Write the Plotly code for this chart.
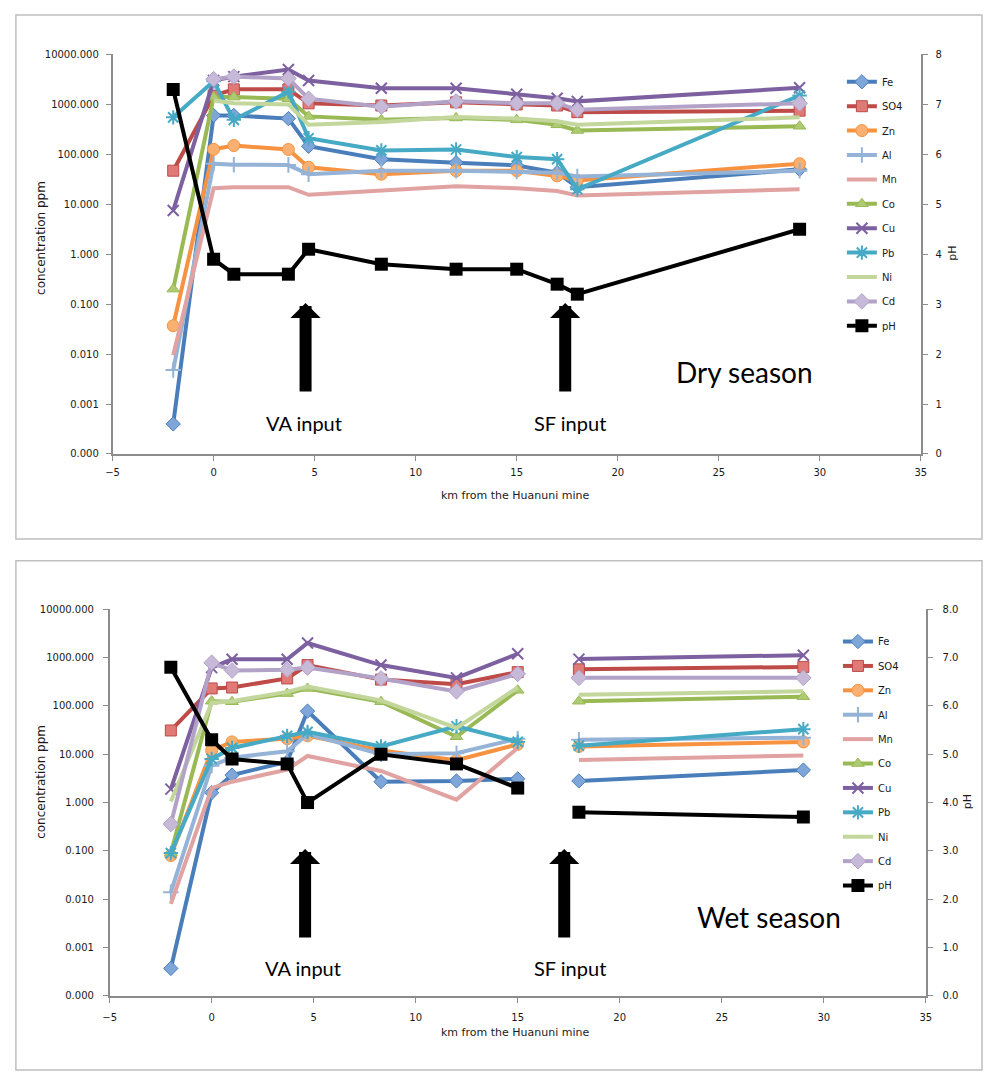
import plotly.graph_objects as go

# ---- data -------------------------------------------------------------
km = [-2, 0, 1, 3.7, 4.7, 8.3, 12, 15, 17, 18, 29]

series_names = ["Fe", "SO4", "Zn", "Al", "Mn", "Co", "Cu", "Pb", "Ni", "Cd"]

dry_fe = [0.0004, 600, 600, 520, 145, 80, 68, 60, 43, 22, 50]
dry_so4 = [47, 1500, 2000, 2000, 1050, 950, 1100, 1000, 950, 700, 750]
dry_zn = [0.037, 126, 150, 125, 55, 40, 47, 47, 37, 30, 65]
dry_al = [0.0048, 65, 62, 61, 40, 47, 47, 45, 43, 36, 47]
dry_mn = [0.0095, 21, 22, 22, 15.5, 18.5, 23, 21, 18.5, 15, 20]
dry_co = [0.2, 1400, 1400, 1300, 575, 490, 535, 490, 390, 300, 365]
dry_cu = [7.5, 3000, 3600, 5000, 3000, 2100, 2100, 1600, 1330, 1150, 2150]
dry_pb = [550, 2900, 490, 1800, 210, 120, 125, 88, 80, 20, 1500]
dry_ni = [None, 1200, 1050, 1000, 390, 445, 560, 520, 460, 390, 550]
dry_cd = [None, 3200, 3600, 3300, 1300, 900, 1150, 1050, 1050, 780, 1050]
dry_ph = [7.3, 3.9, 3.6, 3.6, 4.1, 3.8, 3.7, 3.7, 3.4, 3.2, 4.5]

wet_fe = [0.00037, 1.6, 3.7, 7, 78, 2.7, 2.8, 3.1, None, 2.8, 4.7]
wet_so4 = [31, 230, 240, 370, 700, 350, 280, 500, None, 570, 640]
wet_zn = [0.08, 12, 18, 21, 24, 12, 7.5, 16, None, 14.5, 18]
wet_al = [0.014, 5.8, 8.5, 11.5, 26, 10, 10.5, 21, None, 20, 22]
wet_mn = [0.008, 2.0, 2.7, 4.8, 9.2, 4.5, 1.15, 13.5, None, 7.6, 9.4]
wet_co = [0.09, 125, 122, 180, 230, 122, 23, 210, None, 125, 155]
wet_cu = [1.9, 620, 920, 920, 2000, 700, 380, 1200, None, 930, 1120]
wet_pb = [0.09, 8, 13.5, 24, 29, 14.5, 38, 18, None, 15, 33]
wet_ni = [1.05, 115, 125, 195, 250, 130, 35, 240, None, 170, 200]
wet_cd = [0.36, 780, 540, 560, 620, 370, 200, 460, None, 380, 380]
wet_ph = [6.8, 5.3, 4.9, 4.8, 4.0, 5.0, 4.8, 4.3, None, 3.8, 3.7]

conc_tickvals = [1e-4, 1e-3, 1e-2, 1e-1, 1, 10, 100, 1000, 10000]
conc_ticktext = ["0.000", "0.001", "0.010", "0.100", "1.000", "10.000",
                 "100.000", "1000.000", "10000.000"]
km_ticks = [-5, 0, 5, 10, 15, 20, 25, 30, 35]

# ---- styles -----------------------------------------------------------
# name: (line colour, marker fill, marker symbol, marker size)
styles = {
    "Fe":  ("#4A7EBB", "#7FA6D9", "diamond", 11),
    "SO4": ("#BE4B48", "#E07A77", "square", 11),
    "Zn":  ("#F69240", "#F9B071", "circle", 12),
    "Al":  ("#95B3D7", "#95B3D7", "cross-thin-open", 11),
    "Mn":  ("#E0A3A2", "#E0A3A2", None, 0),
    "Co":  ("#98B954", "#AECB74", "triangle-up", 11),
    "Cu":  ("#7D60A0", "#7D60A0", "x-thin-open", 11),
    "Pb":  ("#46AAC5", "#46AAC5", "asterisk-open", 12),
    "Ni":  ("#C3D69B", "#C3D69B", None, 0),
    "Cd":  ("#B3A2C7", "#C7BAD8", "diamond", 12),
}

W, H = 990, 1081


def px_x(p):
    return p / W


def px_y(p):
    return 1 - p / H


fig = go.Figure()

panels = [
    ("dry", [dry_fe, dry_so4, dry_zn, dry_al, dry_mn, dry_co, dry_cu,
             dry_pb, dry_ni, dry_cd], dry_ph, "x", "y", "y2", "legend"),
    ("wet", [wet_fe, wet_so4, wet_zn, wet_al, wet_mn, wet_co, wet_cu,
             wet_pb, wet_ni, wet_cd], wet_ph, "x2", "y3", "y4", "legend2"),
]

for tag, conc, ph, xa, ya, ya_ph, leg in panels:
    for name, vals in zip(series_names, conc):
        col, fill, sym, size = styles[name]
        marker = dict(size=0.1, opacity=0) if sym is None else dict(
            symbol=sym, size=size, color=fill,
            line=dict(color=col, width=2 if "open" in sym else 1))
        fig.add_trace(go.Scatter(
            x=km, y=vals, name=name, mode="lines+markers",
            line=dict(color=col, width=4), marker=marker,
            connectgaps=False, xaxis=xa, yaxis=ya, legend=leg,
            legendgroup=f"{tag}-{name}"))
    fig.add_trace(go.Scatter(
        x=km, y=ph, name="pH", mode="lines+markers",
        line=dict(color="black", width=4),
        marker=dict(symbol="square", size=13, color="black"),
        connectgaps=False, xaxis=xa, yaxis=ya_ph, legend=leg,
        legendgroup=f"{tag}-pH"))

axis_font = dict(family="DejaVu Sans", size=10, color="#1a1a1a")
line_col = "#8c8c8c"
base_axis = dict(ticks="outside", ticklen=5, tickcolor=line_col,
                 showline=True, linecolor=line_col, linewidth=1.5,
                 showgrid=False, zeroline=False, tickfont=axis_font)
common_x = dict(range=[-5, 35], tickvals=km_ticks, **base_axis)
common_log = dict(type="log", range=[-4, 4], tickvals=conc_tickvals,
                  ticktext=conc_ticktext, **base_axis)
common_ph = dict(range=[0, 8], dtick=1, side="right", **base_axis)

top_dom = [px_y(453), px_y(49)]
bot_dom = [px_y(1001), px_y(610)]

legend_common = dict(xanchor="left", yanchor="top", itemwidth=30,
                     tracegroupgap=5.4, bgcolor="rgba(0,0,0,0)",
                     font=dict(family="DejaVu Sans", size=10, color="#1a1a1a"))

fig.update_layout(
    width=W, height=H, margin=dict(l=0, r=0, t=0, b=0),
    paper_bgcolor="white", plot_bgcolor="white",
    xaxis=dict(domain=[px_x(107), px_x(926)], anchor="y",
               ticklabelstandoff=3, **common_x),
    yaxis=dict(domain=top_dom, anchor="x", ticklabelstandoff=5, **common_log),
    yaxis2=dict(overlaying="y", anchor="x", ticklabelstandoff=6, **common_ph),
    xaxis2=dict(domain=[px_x(104), px_x(931)], anchor="y3",
                ticklabelstandoff=6, **common_x),
    yaxis3=dict(domain=bot_dom, anchor="x2", ticklabelstandoff=7,
                **common_log),
    yaxis4=dict(overlaying="y3", anchor="x2", tickformat=".1f",
                ticklabelstandoff=8, **common_ph),
    legend=dict(x=px_x(846), y=px_y(62), **legend_common),
    legend2=dict(x=px_x(842), y=px_y(628), **legend_common),
    showlegend=True,
)

# chart frames
for y0, y1 in [(9, 539), (561, 1076)]:
    fig.add_shape(type="rect", xref="paper", yref="paper",
                  x0=px_x(9), x1=px_x(988), y0=px_y(y1), y1=px_y(y0),
                  line=dict(color="#bfbfbf", width=1.5), fillcolor="rgba(0,0,0,0)",
                  layer="below")

label_font = dict(family="Lato", size=20, color="black")
title_font = dict(family="DejaVu Sans", size=12, color="#1a1a1a")
small_title = dict(family="DejaVu Sans", size=11, color="#1a1a1a")
centred = dict(xanchor="center", yanchor="middle", showarrow=False)

# axis titles
for ycen in (235, 785):
    fig.add_annotation(text="concentration ppm", xref="paper", yref="paper",
                       x=px_x(35), y=px_y(ycen), textangle=-90,
                       font=title_font, **centred)
for xcen, ycen in ((958, 250), (973, 805)):
    fig.add_annotation(text="pH", xref="paper", yref="paper",
                       x=px_x(xcen), y=px_y(ycen), textangle=-90,
                       font=small_title, **centred)
for ycen in (495, 1038):
    fig.add_annotation(text="km from the Huanuni mine", xref="paper",
                       yref="paper", x=px_x(515), y=px_y(ycen),
                       font=small_title, **centred)

# input arrows and labels
arrow_sets = [
    ("x", "y domain", [(4.55, "VA input", 4.45), (17.4, "SF input", 17.65)],
     0.378, 0.0775, "Dry season", 26.26, 0.205),
    ("x2", "y3 domain", [(4.58, "VA input", 4.5), (17.28, "SF input", 17.55)],
     0.38, 0.0716, "Wet season", 27.3, 0.203),
]
for xr, yr, arrows, tip_y, lab_y, season, sx, sy in arrow_sets:
    for ax_x, label, lx in arrows:
        fig.add_annotation(x=ax_x, y=tip_y, xref=xr, yref=yr, text="",
                           showarrow=True, arrowhead=1, arrowsize=0.42,
                           arrowwidth=12, arrowcolor="black", ax=0, ay=90,
                           standoff=0)
        fig.add_annotation(x=lx, y=lab_y, xref=xr, yref=yr, text=label,
                           font=label_font, **centred)
    fig.add_annotation(x=sx, y=sy, xref=xr, yref=yr, text=season,
                       font=dict(family="Lato", size=28, color="black"),
                       **centred)

fig.write_html("out.html")
